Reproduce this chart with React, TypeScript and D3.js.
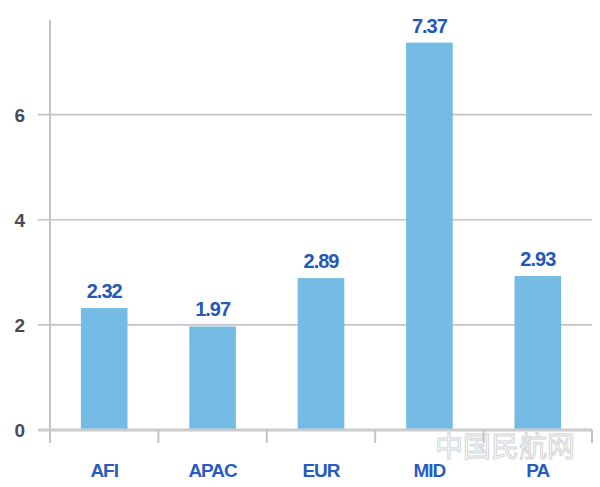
import React from "react";
import * as d3 from "d3";

const categories = ["AFI", "APAC", "EUR", "MID", "PA"];
const values = [2.32, 1.97, 2.89, 7.37, 2.93];
const yTicks = [0, 2, 4, 6];

const W = 600;
const H = 487;
const left = 50;
const right = 592;
const top = 20;
const bottom = 430;

export default function App() {
  const x = d3.scaleBand<string>().domain(categories).range([left, right]).paddingInner(0).paddingOuter(0);
  const y = d3.scaleLinear().domain([0, 7.8]).range([bottom, top]);
  const barW = x.bandwidth() * 0.43;
  const boundaries = [...categories.map((c) => x(c) as number), right];
  const font = "'Liberation Sans', Arial, sans-serif";
  return (
    <svg width={W} height={H} style={{ position: "absolute", left: 0, top: 0, background: "#fff" }}>
      {yTicks.filter((t) => t > 0).map((t) => (
        <line key={t} x1={38} x2={right} y1={y(t)} y2={y(t)} stroke="#c4c4c4" strokeWidth={1.6} />
      ))}
      <line x1={left} x2={left} y1={top} y2={bottom} stroke="#c4c4c4" strokeWidth={2} />
      <text x={505} y={457} textAnchor="middle" fontFamily="'Noto Sans CJK SC', sans-serif" fontSize={28} fill="none" stroke="#d4d4d4" strokeWidth={1}>
        中国民航网
      </text>
      {categories.map((c, i) => {
        const cx = (x(c) as number) + x.bandwidth() / 2;
        return (
          <g key={c}>
            <rect x={cx - barW / 2} y={y(values[i])} width={barW} height={bottom - y(values[i])} fill="#74bce6" />
            <text x={cx} y={y(values[i]) - 10} textAnchor="middle" fontFamily={font} fontWeight="bold" fontSize={20} fill="#2458b8" letterSpacing={-1}>
              {values[i].toFixed(2)}
            </text>
            <text x={cx} y={477} textAnchor="middle" fontFamily={font} fontWeight="bold" fontSize={19} fill="#2a5cc0" letterSpacing={-1}>
              {c}
            </text>
          </g>
        );
      })}
      <line x1={38} x2={right} y1={bottom} y2={bottom} stroke="#cccccc" strokeWidth={3} />
      {boundaries.map((bx, i) => (
        <line key={i} x1={bx} x2={bx} y1={bottom} y2={443} stroke="#c4c4c4" strokeWidth={2} />
      ))}
      {yTicks.map((t) => (
        <text key={t} x={25} y={y(t) + 7} textAnchor="end" fontFamily={font} fontWeight="bold" fontSize={19} fill="#4a4a55">
          {t}
        </text>
      ))}
    </svg>
  );
}
